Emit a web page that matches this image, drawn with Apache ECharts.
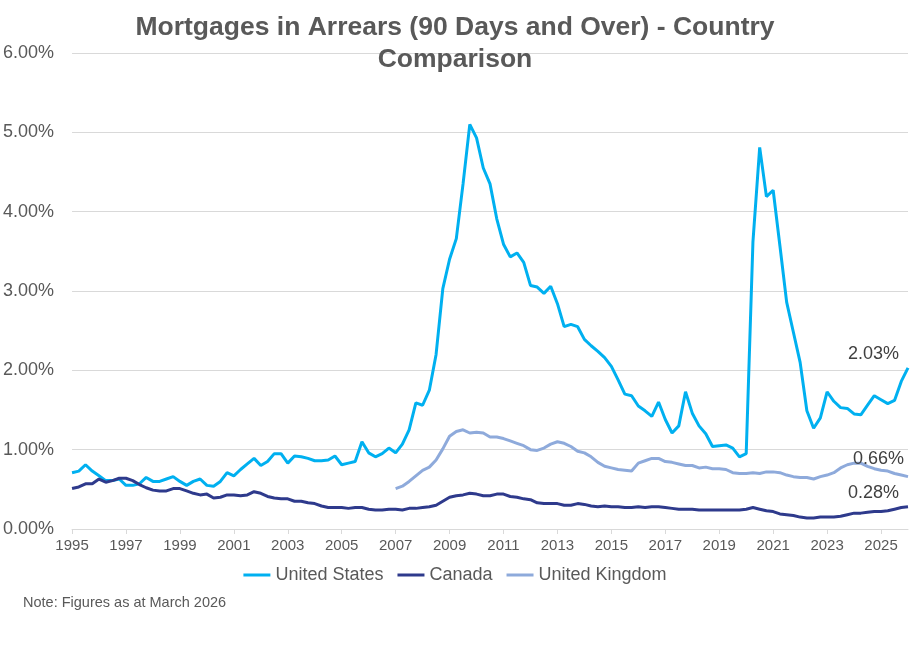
<!DOCTYPE html>
<html>
<head>
<meta charset="utf-8">
<script src="https://cdn.jsdelivr.net/npm/echarts@6/dist/echarts.min.js"></script>
<style>
  html, body { margin: 0; padding: 0; background: #fff; }
  #chart { width: 910px; height: 660px; }
</style>
</head>
<body>
<div id="chart"></div>
<script>
// quarterly, 1995 Q1 .. 2026 Q1
var quarters = [];
for (var y = 1995; y <= 2026; y++) {
    for (var q = 1; q <= 4; q++) {
        if (y === 2026 && q > 1) break;
        quarters.push(y + ' Q' + q);
    }
}

var usArrears = [
    0.71, 0.73, 0.81, 0.73, 0.67, 0.61, 0.61, 0.63,
    0.55, 0.55, 0.57, 0.65, 0.60, 0.60, 0.63, 0.66,
    0.60, 0.55, 0.60, 0.63, 0.55, 0.54, 0.60, 0.71,
    0.67, 0.75, 0.82, 0.89, 0.80, 0.85, 0.95, 0.95,
    0.83, 0.92, 0.91, 0.89, 0.86, 0.86, 0.87, 0.92,
    0.81, 0.83, 0.85, 1.10, 0.96, 0.91, 0.95, 1.02,
    0.96, 1.07, 1.25, 1.59, 1.56, 1.75, 2.20, 3.03,
    3.40, 3.66, 4.35, 5.10, 4.93, 4.55, 4.35, 3.91,
    3.59, 3.43, 3.48, 3.36, 3.07, 3.05, 2.97, 3.06,
    2.84, 2.55, 2.58, 2.55, 2.39, 2.31, 2.24, 2.16,
    2.05, 1.88, 1.70, 1.68, 1.55, 1.49, 1.42, 1.60,
    1.38, 1.21, 1.30, 1.73, 1.46, 1.30, 1.20, 1.04,
    1.05, 1.06, 1.02, 0.91, 0.95, 3.62, 4.81, 4.19,
    4.27, 3.57, 2.86, 2.48, 2.10, 1.49, 1.27, 1.40,
    1.73, 1.61, 1.53, 1.52, 1.45, 1.44, 1.56, 1.68,
    1.63, 1.58, 1.62, 1.86, 2.03
];

var canadaArrears = [
    0.51, 0.53, 0.57, 0.57, 0.63, 0.59, 0.61, 0.64,
    0.64, 0.61, 0.56, 0.52, 0.49, 0.48, 0.48, 0.51,
    0.51, 0.48, 0.45, 0.43, 0.44, 0.39, 0.40, 0.43,
    0.43, 0.42, 0.43, 0.47, 0.45, 0.41, 0.39, 0.38,
    0.38, 0.35, 0.35, 0.33, 0.32, 0.29, 0.27, 0.27,
    0.27, 0.26, 0.27, 0.27, 0.25, 0.24, 0.24, 0.25,
    0.25, 0.24, 0.26, 0.26, 0.27, 0.28, 0.30, 0.35,
    0.40, 0.42, 0.43, 0.45, 0.44, 0.42, 0.42, 0.44,
    0.44, 0.41, 0.40, 0.38, 0.37, 0.33, 0.32, 0.32,
    0.32, 0.30, 0.30, 0.32, 0.31, 0.29, 0.28, 0.29,
    0.28, 0.28, 0.27, 0.27, 0.28, 0.27, 0.28, 0.28,
    0.27, 0.26, 0.25, 0.25, 0.25, 0.24, 0.24, 0.24,
    0.24, 0.24, 0.24, 0.24, 0.25, 0.27, 0.25, 0.23,
    0.22, 0.19, 0.18, 0.17, 0.15, 0.14, 0.14, 0.15,
    0.15, 0.15, 0.16, 0.18, 0.20, 0.20, 0.21, 0.22,
    0.22, 0.23, 0.25, 0.27, 0.28
];

// UK series starts in 2007 Q1
var ukStart = '2007 Q1';
var ukArrears = [
    0.51, 0.54, 0.60, 0.67, 0.74, 0.78, 0.87, 1.01,
    1.17, 1.23, 1.25, 1.21, 1.22, 1.21, 1.16, 1.16,
    1.14, 1.11, 1.08, 1.05, 1.00, 0.99, 1.02, 1.07,
    1.10, 1.08, 1.04, 0.98, 0.96, 0.91, 0.84, 0.79,
    0.77, 0.75, 0.74, 0.73, 0.83, 0.86, 0.89, 0.89,
    0.85, 0.84, 0.82, 0.80, 0.80, 0.77, 0.78, 0.76,
    0.76, 0.75, 0.71, 0.70, 0.70, 0.71, 0.70, 0.72,
    0.72, 0.71, 0.68, 0.66, 0.65, 0.65, 0.63, 0.66,
    0.68, 0.71, 0.77, 0.81, 0.83, 0.83, 0.79, 0.76,
    0.74, 0.73, 0.70, 0.68, 0.66
];

var textColor = '#595959';
var gridColor = '#d9d9d9';
var fontFamily = 'Arial, "Liberation Sans", sans-serif';

function padStart(arr, startCat) {
    var pad = quarters.indexOf(startCat);
    var out = [];
    for (var i = 0; i < pad; i++) out.push(null);
    return out.concat(arr);
}

// show only the last value as a label
function withEndLabel(arr, pos) {
    var last = arr.length - 1;
    return arr.map(function (v, i) {
        if (i !== last) return v;
        return {
            value: v,
            label: {
                show: true,
                position: pos,
                formatter: function (p) { return p.value.toFixed(2) + '%'; },
                color: '#404040',
                fontSize: 18,
                fontFamily: fontFamily
            }
        };
    });
}

var lineSeries = function (name, color, data) {
    return {
        name: name,
        type: 'line',
        data: data,
        showSymbol: true,
        symbol: 'circle',
        symbolSize: 0,
        connectNulls: false,
        lineStyle: { color: color, width: 3 },
        itemStyle: { color: color },
        label: { show: false },
        emphasis: { disabled: true }
    };
};

var option = {
    animation: false,
    title: {
        text: 'Mortgages in Arrears (90 Days and Over) - Country\nComparison',
        left: 'center',
        top: 12,
        padding: 0,
        textStyle: {
            color: textColor,
            fontSize: 26.5,
            fontWeight: 'bold',
            lineHeight: 32,
            fontFamily: fontFamily
        }
    },
    legend: {
        top: 561,
        left: 'center',
        icon: 'rect',
        itemWidth: 27,
        itemHeight: 3,
        itemGap: 14,
        textStyle: { color: textColor, fontSize: 18, fontFamily: fontFamily },
        data: ['United States', 'Canada', 'United Kingdom']
    },
    grid: { left: 71, right: 2, top: 53, bottom: 131, containLabel: false },
    xAxis: {
        type: 'category',
        data: quarters,
        boundaryGap: false,
        axisLine: { lineStyle: { color: gridColor, width: 1 } },
        axisTick: {
            show: true,
            length: 5,
            lineStyle: { color: gridColor },
            interval: function (i) { return i % 8 === 0; }
        },
        axisLabel: {
            color: textColor,
            fontSize: 15,
            fontFamily: fontFamily,
            margin: 9,
            interval: function (i) { return i % 8 === 0; },
            formatter: function (v) { return v.slice(0, 4); }
        },
        splitLine: { show: false }
    },
    yAxis: {
        type: 'value',
        min: 0,
        max: 6,
        interval: 1,
        axisLine: { show: false },
        axisTick: { show: false },
        axisLabel: {
            color: textColor,
            fontSize: 18,
            fontFamily: fontFamily,
            margin: 18,
            formatter: function (v) { return v.toFixed(2) + '%'; }
        },
        splitLine: { lineStyle: { color: gridColor, width: 1 } }
    },
    graphic: [{
        type: 'text',
        left: 23,
        top: 595,
        style: {
            text: 'Note: Figures as at March 2026',
            fill: textColor,
            fontSize: 14.5,
            fontFamily: fontFamily
        }
    }],
    series: [
        lineSeries('United States', '#00b0f0', withEndLabel(usArrears, [-60, -23])),
        lineSeries('Canada', '#2e3a8c', withEndLabel(canadaArrears, [-60, -23])),
        lineSeries('United Kingdom', '#8eaadb', withEndLabel(padStart(ukArrears, ukStart), [-55, -27]))
    ]
};

var myChart = echarts.init(document.getElementById('chart'));
myChart.setOption(option);
</script>
</body>
</html>
